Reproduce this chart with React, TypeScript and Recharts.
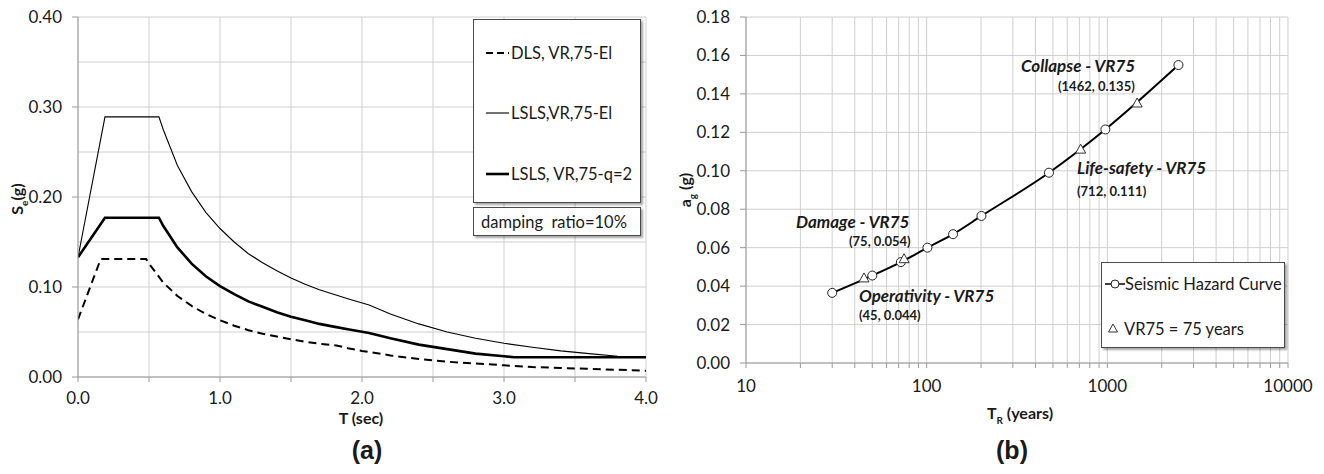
import React from 'react'
import { CartesianGrid, Line, LineChart, XAxis, YAxis } from 'recharts'

const FONT = 'Lato, "Open Sans", sans-serif'
const GRID = '#cfcfcf'
const AXIS = '#9a9a9a'
const INK = '#1a1a1a'

// (a) response spectra, damping ratio 10%
const dlsPeriods = [0, 0.16, 0.48, 0.5, 0.6, 0.7, 0.8, 0.9, 1.0, 1.1, 1.2, 1.3, 1.4, 1.5, 1.6, 1.7, 1.82, 1.9, 2.0, 2.2, 2.4, 2.6, 2.8, 3.0, 3.2, 3.4, 3.6, 3.8, 4.0]
const dlsValues = [0.064, 0.131, 0.131, 0.126, 0.105, 0.09, 0.079, 0.07, 0.063, 0.057, 0.052, 0.048, 0.045, 0.042, 0.039, 0.037, 0.035, 0.032, 0.029, 0.024, 0.02, 0.017, 0.015, 0.013, 0.011, 0.01, 0.009, 0.008, 0.007]

const lslsElPeriods = [0, 0.19, 0.57, 0.6, 0.7, 0.8, 0.9, 1.0, 1.1, 1.2, 1.3, 1.4, 1.5, 1.6, 1.7, 1.8, 1.9, 2.05, 2.2, 2.4, 2.6, 2.8, 3.0, 3.2, 3.4, 3.6, 3.8, 4.0]
const lslsElValues = [0.133, 0.289, 0.289, 0.275, 0.235, 0.206, 0.183, 0.165, 0.15, 0.137, 0.127, 0.118, 0.11, 0.103, 0.097, 0.092, 0.087, 0.08, 0.07, 0.059, 0.05, 0.043, 0.0375, 0.033, 0.029, 0.026, 0.023, 0.022]

const lslsQPeriods = [0, 0.19, 0.57, 0.6, 0.7, 0.8, 0.9, 1.0, 1.1, 1.2, 1.3, 1.4, 1.5, 1.6, 1.7, 1.8, 1.9, 2.05, 2.2, 2.4, 2.6, 2.8, 3.0, 3.07, 4.0]
const lslsQValues = [0.133, 0.177, 0.177, 0.168, 0.144, 0.126, 0.112, 0.101, 0.092, 0.084, 0.078, 0.072, 0.067, 0.063, 0.059, 0.056, 0.053, 0.049, 0.043, 0.036, 0.031, 0.026, 0.023, 0.022, 0.022]

const spectraXTicks = [0, 0.5, 1, 1.5, 2, 2.5, 3, 3.5, 4]
const spectraYTicks = [0, 0.1, 0.2, 0.3, 0.4]
const spectraYGrid = [0, 0.05, 0.1, 0.15, 0.2, 0.25, 0.3, 0.35, 0.4]

// (b) seismic hazard curve
const returnPeriods = [30, 50, 72, 101, 140, 201, 475, 975, 2475]
const pgaValues = [0.0365, 0.0455, 0.0525, 0.06, 0.067, 0.0765, 0.099, 0.1215, 0.155]
const vr75Periods = [45, 75, 712, 1462]
const vr75Pga = [0.044, 0.054, 0.111, 0.135]

const hazardXTicks = [10, 20, 30, 40, 50, 60, 70, 80, 90, 100, 200, 300, 400, 500, 600, 700, 800, 900, 1000, 2000, 3000, 4000, 5000, 6000, 7000, 8000, 9000, 10000]
const hazardYTicks = [0, 0.02, 0.04, 0.06, 0.08, 0.1, 0.12, 0.14, 0.16, 0.18]

const zip = (xs: number[], ys: number[]) => xs.map((x, i) => ({ x, y: ys[i] }))

const dlsData = zip(dlsPeriods, dlsValues)
const lslsElData = zip(lslsElPeriods, lslsElValues)
const lslsQData = zip(lslsQPeriods, lslsQValues)
const hazardData = zip(returnPeriods, pgaValues)
const vr75Data = zip(vr75Periods, vr75Pga)

const tickStyle = { fontFamily: FONT, fontSize: 17, fill: INK }

const SpectraXTick = (props: any) => {
    const { x, y, payload } = props
    if (payload.value % 1 !== 0) return <g />
    return (
        <text x={x} y={y} dy="0.71em" textAnchor="middle" {...tickStyle}>
            {payload.value.toFixed(1)}
        </text>
    )
}

const LogXTick = (props: any) => {
    const { x, y, payload } = props
    const lg = Math.log10(payload.value)
    if (Math.abs(lg - Math.round(lg)) > 1e-9) return <g />
    return (
        <text x={x} y={y} dy="0.71em" textAnchor="middle" {...tickStyle}>
            {payload.value}
        </text>
    )
}

const TriangleDot = (props: any) => {
    const { cx, cy, index } = props
    return (
        <path
            key={`tri-${index}`}
            d={`M${cx},${cy - 5.5} L${cx + 5},${cy + 3.5} L${cx - 5},${cy + 3.5} Z`}
            fill="#fff"
            stroke="#333"
            strokeWidth={1}
        />
    )
}

// absolutely placed text, centred on (x, y)
const Txt = ({ x, y, rotate = false, style, children }: any) => (
    <div
        style={{
            position: 'absolute',
            left: x,
            top: y,
            transform: `translate(-50%, -50%)${rotate ? ' rotate(-90deg)' : ''}`,
            whiteSpace: 'pre',
            fontFamily: FONT,
            color: INK,
            lineHeight: 1,
            ...style,
        }}
    >
        {children}
    </div>
)

// left-anchored text, vertically centred on y
const LTxt = ({ x, y, style, children }: any) => (
    <div
        style={{
            position: 'absolute',
            left: x,
            top: y,
            transform: 'translateY(-50%)',
            whiteSpace: 'pre',
            fontFamily: FONT,
            color: INK,
            lineHeight: 1,
            ...style,
        }}
    >
        {children}
    </div>
)

const boxStyle: React.CSSProperties = {
    position: 'absolute',
    background: '#fff',
    border: '1px solid #4a4a4a',
    boxShadow: '2px 2px 2px rgba(0,0,0,0.35)',
    boxSizing: 'border-box',
}

const annoTitle = { fontSize: 17, fontWeight: 700, fontStyle: 'italic' }
const annoCoord = { fontSize: 13, fontWeight: 700 }
const legendText = { fontSize: 16.5 }

const App = () => {
    return (
        <div style={{ position: 'absolute', left: 0, top: 0, width: 1324, height: 474, background: '#fff', overflow: 'hidden' }}>
            {/* (a) */}
            <div style={{ position: 'absolute', left: 0, top: 0 }}>
                <LineChart width={660} height={474} margin={{ top: 17, right: 14, bottom: 67, left: 18 }}>
                    <CartesianGrid stroke={GRID} horizontalValues={spectraYGrid} verticalValues={spectraXTicks} />
                    <XAxis
                        type="number"
                        dataKey="x"
                        domain={[0, 4]}
                        ticks={spectraXTicks}
                        height={30}
                        tickSize={5}
                        tickMargin={10}
                        tick={<SpectraXTick />}
                        stroke={AXIS}
                        allowDataOverflow
                    />
                    <YAxis
                        type="number"
                        dataKey="y"
                        domain={[0, 0.4]}
                        ticks={spectraYTicks}
                        width={60}
                        tickSize={6}
                        tickMargin={10}
                        tick={tickStyle}
                        tickFormatter={(v: number) => v.toFixed(2)}
                        stroke={AXIS}
                        allowDataOverflow
                    />
                    <Line data={dlsData} dataKey="y" type="linear" stroke="#000" strokeWidth={2} strokeDasharray="8 5" dot={false} isAnimationActive={false} />
                    <Line data={lslsElData} dataKey="y" type="linear" stroke="#000" strokeWidth={1.1} dot={false} isAnimationActive={false} />
                    <Line data={lslsQData} dataKey="y" type="linear" stroke="#000" strokeWidth={2.6} dot={false} isAnimationActive={false} />
                </LineChart>
            </div>

            <div style={{ ...boxStyle, left: 473, top: 19, width: 168, height: 184 }}>
                <svg width={40} height={184} style={{ position: 'absolute', left: 0, top: 0 }}>
                    <line x1={12} x2={35} y1={33} y2={33} stroke="#000" strokeWidth={2} strokeDasharray="7 4" />
                    <line x1={12} x2={35} y1={93} y2={93} stroke="#000" strokeWidth={1.1} />
                    <line x1={12} x2={35} y1={154} y2={154} stroke="#000" strokeWidth={2.6} />
                </svg>
                <LTxt x={37} y={33} style={legendText}>DLS, VR,75-El</LTxt>
                <LTxt x={37} y={93} style={legendText}>LSLS,VR,75-El</LTxt>
                <LTxt x={37} y={154} style={legendText}>LSLS, VR,75-q=2</LTxt>
            </div>
            <div style={{ ...boxStyle, left: 473, top: 207, width: 168, height: 29 }}>
                <LTxt x={7} y={14} style={legendText}>damping  ratio=10%</LTxt>
            </div>

            <Txt x={19} y={199} rotate style={{ fontSize: 16, fontWeight: 700 }}>
                S<sub style={{ fontSize: 10 }}>e</sub>(g)
            </Txt>
            <Txt x={361} y={418} style={{ fontSize: 16, fontWeight: 700 }}>T (sec)</Txt>
            <Txt x={367} y={450} style={{ fontSize: 25, fontWeight: 700, fontFamily: '"Liberation Sans", Arial, sans-serif' }}>(a)</Txt>

            {/* (b) */}
            <div style={{ position: 'absolute', left: 660, top: 0 }}>
                <LineChart width={664} height={474} margin={{ top: 17, right: 36, bottom: 81, left: 26 }}>
                    <CartesianGrid stroke={GRID} />
                    <XAxis
                        type="number"
                        dataKey="x"
                        scale="log"
                        domain={[10, 10000]}
                        ticks={hazardXTicks}
                        interval={0}
                        height={30}
                        tickSize={5}
                        tickMargin={12}
                        tick={<LogXTick />}
                        stroke={AXIS}
                        allowDataOverflow
                    />
                    <YAxis
                        type="number"
                        dataKey="y"
                        domain={[0, 0.18]}
                        ticks={hazardYTicks}
                        interval={0}
                        width={60}
                        tickSize={6}
                        tickMargin={10}
                        tick={tickStyle}
                        tickFormatter={(v: number) => v.toFixed(2)}
                        stroke={AXIS}
                        allowDataOverflow
                    />
                    <Line
                        data={hazardData}
                        dataKey="y"
                        type="monotone"
                        stroke="#000"
                        strokeWidth={2}
                        dot={{ r: 4.5, fill: '#fff', stroke: '#222', strokeWidth: 1 }}
                        isAnimationActive={false}
                    />
                    <Line
                        data={vr75Data}
                        dataKey="y"
                        type="linear"
                        stroke="none"
                        dot={<TriangleDot />}
                        isAnimationActive={false}
                    />
                </LineChart>
            </div>

            <Txt x={687} y={190} rotate style={{ fontSize: 16, fontWeight: 700 }}>
                a<sub style={{ fontSize: 10 }}>g</sub> (g)
            </Txt>
            <Txt x={1020} y={415} style={{ fontSize: 16, fontWeight: 700 }}>
                T<sub style={{ fontSize: 10 }}>R</sub> (years)
            </Txt>
            <Txt x={1012} y={450} style={{ fontSize: 25, fontWeight: 700, fontFamily: '"Liberation Sans", Arial, sans-serif' }}>(b)</Txt>

            <LTxt x={796} y={221} style={annoTitle}>Damage - VR75</LTxt>
            <LTxt x={849} y={241} style={annoCoord}>(75, 0.054)</LTxt>
            <LTxt x={859} y={295} style={annoTitle}>Operativity - VR75</LTxt>
            <LTxt x={859} y={315} style={annoCoord}>(45, 0.044)</LTxt>
            <LTxt x={1021} y={65} style={annoTitle}>Collapse - VR75</LTxt>
            <LTxt x={1058} y={86} style={annoCoord}>(1462, 0.135)</LTxt>
            <LTxt x={1077} y={167} style={annoTitle}>Life-safety - VR75</LTxt>
            <LTxt x={1077} y={191} style={annoCoord}>(712, 0.111)</LTxt>

            <div style={{ ...boxStyle, left: 1101, top: 262, width: 184, height: 86 }}>
                <svg width={26} height={86} style={{ position: 'absolute', left: 0, top: 0 }}>
                    <line x1={3} x2={23} y1={21} y2={21} stroke="#000" strokeWidth={1.5} />
                    <circle cx={13} cy={21} r={4} fill="#fff" stroke="#222" strokeWidth={1} />
                    <path d="M11,61 L15.5,69 L6.5,69 Z" fill="#fff" stroke="#333" strokeWidth={1} />
                </svg>
                <LTxt x={23} y={21} style={legendText}>Seismic Hazard Curve</LTxt>
                <LTxt x={22} y={66} style={legendText}>VR75 = 75 years</LTxt>
            </div>
        </div>
    )
}

export default App
